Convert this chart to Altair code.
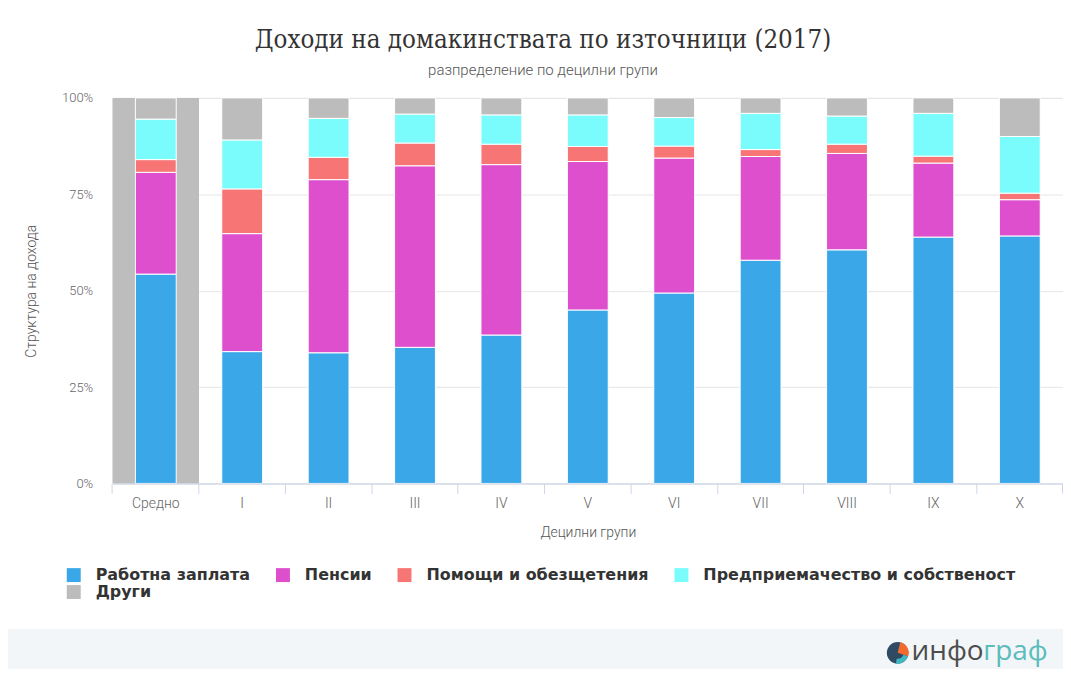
import altair as alt
import pandas as pd

categories = ["Средно", "I", "II", "III", "IV", "V", "VI", "VII", "VIII", "IX", "X"]
series = ["Работна заплата", "Пенсии", "Помощи и обезщетения",
          "Предприемачество и собственост", "Други"]
colors = ["#3aa8e8", "#dd4fcc", "#f77575", "#7afcfc", "#bcbcbc"]

wage = [54.3, 34.2, 33.9, 35.3, 38.5, 45.0, 49.4, 57.9, 60.6, 63.9, 64.2]
pension = [26.4, 30.6, 44.9, 47.1, 44.2, 38.5, 35.0, 26.9, 25.0, 19.2, 9.4]
social = [3.3, 11.6, 5.8, 5.9, 5.3, 3.9, 3.1, 1.8, 2.4, 1.8, 1.7]
business = [10.5, 12.7, 10.1, 7.5, 7.6, 8.2, 7.4, 9.4, 7.3, 11.1, 14.7]
other = [5.5, 10.9, 5.3, 4.2, 4.4, 4.4, 5.1, 4.0, 4.7, 4.0, 10.0]

y_ticks = [0, 25, 50, 75, 100]

rows = []
for i, c in enumerate(categories):
    for j, vals in enumerate([wage, pension, social, business, other]):
        rows.append({"group": c, "source": series[j], "value": vals[i], "order": j})
df = pd.DataFrame(rows)

W, H = 954, 387
LIGHT = "Roboto"

xscale = alt.Scale(domain=categories, paddingInner=0, paddingOuter=0)
xenc = alt.X(
    "group:N", scale=xscale, sort=categories, title="Децилни групи",
    axis=alt.Axis(labelAngle=0, bandPosition=0, tickSize=10, tickColor="#ccd6eb",
                  domainColor="#ccd6eb", labelPadding=3, titlePadding=15,
                  labelFont=LIGHT, labelFontWeight=300, labelFontSize=14, labelColor="#666666",
                  titleFont=LIGHT, titleFontWeight=300, titleFontSize=14, titleColor="#555555",
                  grid=False),
)

band = alt.Chart(pd.DataFrame({"group": ["Средно"]})).mark_rect(color="#bdbdbd").encode(
    x=xenc, y=alt.value(0), y2=alt.value(H)
)

bars = alt.Chart(df).mark_bar(size=41, stroke="white", strokeWidth=1).encode(
    x=xenc,
    y=alt.Y("value:Q", stack="zero", scale=alt.Scale(domain=[0, 100], nice=False),
            title="Структура на дохода",
            axis=alt.Axis(values=y_ticks, labelExpr="datum.value + '%'", ticks=False,
                          domain=False, gridColor="#e6e6e6", labelPadding=20, titlePadding=23,
                          labelFont=LIGHT, labelFontWeight=300, labelFontSize=13,
                          labelColor="#666666", titleFont=LIGHT, titleFontWeight=300,
                          titleFontSize=14, titleColor="#555555")),
    color=alt.Color("source:N", scale=alt.Scale(domain=series, range=colors),
                    legend=alt.Legend(orient="none", legendX=-47, legendY=471,
                                      direction="horizontal", columns=4, title=None,
                                      symbolType="square", symbolSize=196,
                                      symbolStrokeWidth=0, symbolOpacity=1,
                                      labelFont="DejaVu Sans", labelFontSize=16,
                                      labelFontWeight="bold", labelColor="#333333",
                                      columnPadding=24, rowPadding=1, labelOffset=14,
                                      labelLimit=0)),
    order=alt.Order("order:Q", sort="ascending"),
)

one = pd.DataFrame({"a": [0]})
end_tick = alt.Chart(one).mark_rule(color="#ccd6eb").encode(
    x=alt.value(W - 0.5), y=alt.value(H), y2=alt.value(H + 10)
)
footer = alt.Chart(one).mark_rect(color="#f3f6f9").encode(
    x=alt.value(-105), x2=alt.value(W), y=alt.value(533), y2=alt.value(580)
)
logo_c = alt.Chart(one).mark_point(filled=True, size=470, color="#2f4a63", opacity=1).encode(
    x=alt.value(788), y=alt.value(557)
)
logo_o = alt.Chart(one).mark_arc(radius=11, theta=0.25, theta2=1.9, color="#f26a2e").encode(
    x=alt.value(788), y=alt.value(557)
)
logo_t = alt.Chart(one).mark_arc(radius=11, radius2=6, theta=1.9, theta2=3.3, color="#3fb6c0").encode(
    x=alt.value(788), y=alt.value(557)
)
txt1 = alt.Chart(one).mark_text(text="инфо", font="Open Sans", fontSize=28, color="#4d4d4d",
                                align="left", baseline="alphabetic").encode(
    x=alt.value(802), y=alt.value(564)
)
txt2 = alt.Chart(one).mark_text(text="граф", font="Open Sans", fontSize=28, color="#5bbcbc",
                                align="left", baseline="alphabetic").encode(
    x=alt.value(874), y=alt.value(564)
)

chart = alt.layer(band, bars, end_tick, footer, logo_c, logo_o, logo_t, txt1, txt2).properties(
    width=W, height=H,
    autosize=alt.AutoSizeParams(type="none"),
    padding={"left": 105, "top": 89, "right": 0, "bottom": 185},
    title=alt.TitleParams(
        text="Доходи на домакинствата по източници (2017)",
        subtitle="разпределение по децилни групи",
        font="DejaVu Serif Condensed", fontSize=25.8, fontWeight="normal", color="#333333",
        subtitleFont=LIGHT, subtitleFontWeight=300, subtitleFontSize=15, subtitleColor="#555555",
        anchor="middle", frame="group", dx=-45, offset=13, subtitlePadding=9,
    ),
).configure_view(stroke=None).configure(background="white")

chart.save("out.html", embed_options={"renderer": "svg", "actions": False})
